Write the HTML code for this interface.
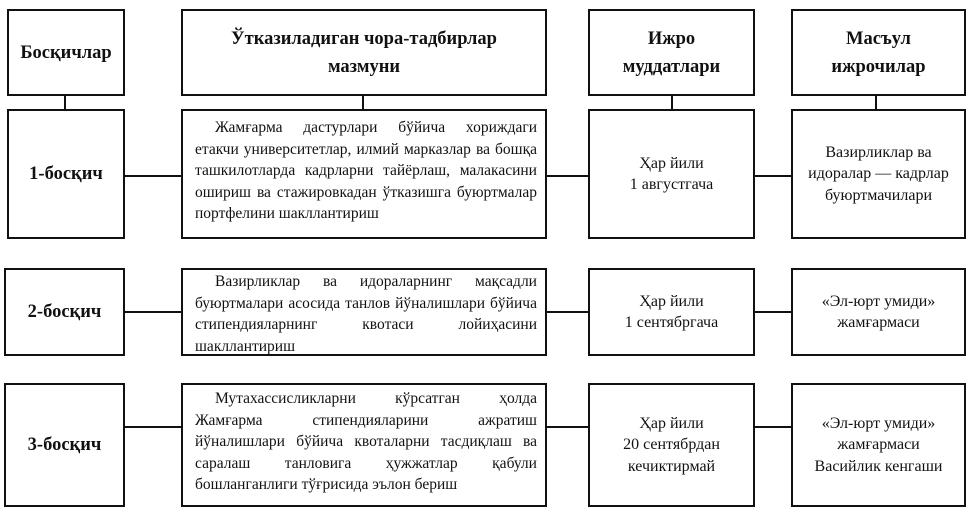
<!DOCTYPE html>
<html><head><meta charset="utf-8"><style>
body{margin:0;width:967px;height:509px;background:#fff;position:relative;overflow:hidden;font-family:"Liberation Serif",serif;color:#111}
.b{position:absolute;border:2px solid #111;box-sizing:border-box;display:flex;align-items:center;justify-content:center;text-align:center;font-size:16px;line-height:21.5px}
.h{font-weight:bold;font-size:18.5px;line-height:28px}
.j{display:block;padding:6px 8px 0 12px;font-size:15.5px;line-height:21.5px}
.j div{white-space:nowrap;display:flex;justify-content:space-between}
.j div.last{justify-content:flex-start}
.j div.i{padding-left:20px}
.l{position:absolute;background:#111}
</style></head><body>
<div class="b h" style="left:7px;top:9px;width:118px;height:87px">Босқичлар</div>
<div class="b h" style="left:181px;top:9px;width:366px;height:87px">Ўтказиладиган чора-тадбирлар<br>мазмуни</div>
<div class="b h" style="left:588px;top:9px;width:167px;height:87px">Ижро<br>муддатлари</div>
<div class="b h" style="left:791px;top:9px;width:175px;height:87px">Масъул<br>ижрочилар</div>
<div class="l" style="left:64px;top:96px;width:2px;height:13px"></div>
<div class="l" style="left:362px;top:96px;width:2px;height:13px"></div>
<div class="l" style="left:671px;top:96px;width:2px;height:13px"></div>
<div class="l" style="left:875px;top:96px;width:2px;height:13px"></div>

<div class="b h" style="left:7px;top:109px;width:118px;height:130px">1-босқич</div>
<div class="b j" style="left:181px;top:109px;width:366px;height:130px">
<div class="i"><span>Жамғарма</span><span>дастурлари</span><span>бўйича</span><span>хориждаги</span></div>
<div><span>етакчи</span><span>университетлар,</span><span>илмий</span><span>марказлар</span><span>ва</span><span>бошқа</span></div>
<div><span>ташкилотларда</span><span>кадрларни</span><span>тайёрлаш,</span><span>малакасини</span></div>
<div><span>ошириш</span><span>ва</span><span>стажировкадан</span><span>ўтказишга</span><span>буюртмалар</span></div>
<div class="last"><span>портфелини шакллантириш</span></div>
</div>
<div class="b" style="left:588px;top:109px;width:167px;height:130px">Ҳар йили<br>1 августгача</div>
<div class="b" style="left:791px;top:109px;width:175px;height:130px">Вазирликлар ва<br>идоралар — кадрлар<br>буюртмачилари</div>
<div class="l" style="left:125px;top:175px;width:56px;height:2px"></div>
<div class="l" style="left:547px;top:175px;width:41px;height:2px"></div>
<div class="l" style="left:755px;top:175px;width:36px;height:2px"></div>

<div class="b h" style="left:4px;top:268px;width:121px;height:88px">2-босқич</div>
<div class="b j" style="left:181px;top:268px;width:366px;height:88px;padding-top:1px">
<div class="i"><span>Вазирликлар</span><span>ва</span><span>идораларнинг</span><span>мақсадли</span></div>
<div><span>буюртмалари</span><span>асосида</span><span>танлов</span><span>йўналишлари</span><span>бўйича</span></div>
<div><span>стипендияларнинг</span><span>квотаси</span><span>лойиҳасини</span></div>
<div class="last"><span>шакллантириш</span></div>
</div>
<div class="b" style="left:588px;top:268px;width:167px;height:88px">Ҳар йили<br>1 сентябргача</div>
<div class="b" style="left:791px;top:268px;width:175px;height:88px">«Эл-юрт умиди»<br>жамғармаси</div>
<div class="l" style="left:125px;top:311px;width:56px;height:2px"></div>
<div class="l" style="left:547px;top:311px;width:41px;height:2px"></div>
<div class="l" style="left:755px;top:311px;width:36px;height:2px"></div>

<div class="b h" style="left:4px;top:383px;width:121px;height:124px">3-босқич</div>
<div class="b j" style="left:181px;top:383px;width:366px;height:124px;padding-top:3px">
<div class="i"><span>Мутахассисликларни</span><span>кўрсатган</span><span>ҳолда</span></div>
<div><span>Жамғарма</span><span>стипендияларини</span><span>ажратиш</span></div>
<div><span>йўналишлари</span><span>бўйича</span><span>квоталарни</span><span>тасдиқлаш</span><span>ва</span></div>
<div><span>саралаш</span><span>танловига</span><span>ҳужжатлар</span><span>қабули</span></div>
<div class="last"><span>бошланганлиги тўғрисида эълон бериш</span></div>
</div>
<div class="b" style="left:588px;top:383px;width:167px;height:124px">Ҳар йили<br>20 сентябрдан<br>кечиктирмай</div>
<div class="b" style="left:791px;top:383px;width:175px;height:124px">«Эл-юрт умиди»<br>жамғармаси<br>Васийлик кенгаши</div>
<div class="l" style="left:125px;top:426px;width:56px;height:2px"></div>
<div class="l" style="left:547px;top:426px;width:41px;height:2px"></div>
<div class="l" style="left:755px;top:426px;width:36px;height:2px"></div>
</body></html>
